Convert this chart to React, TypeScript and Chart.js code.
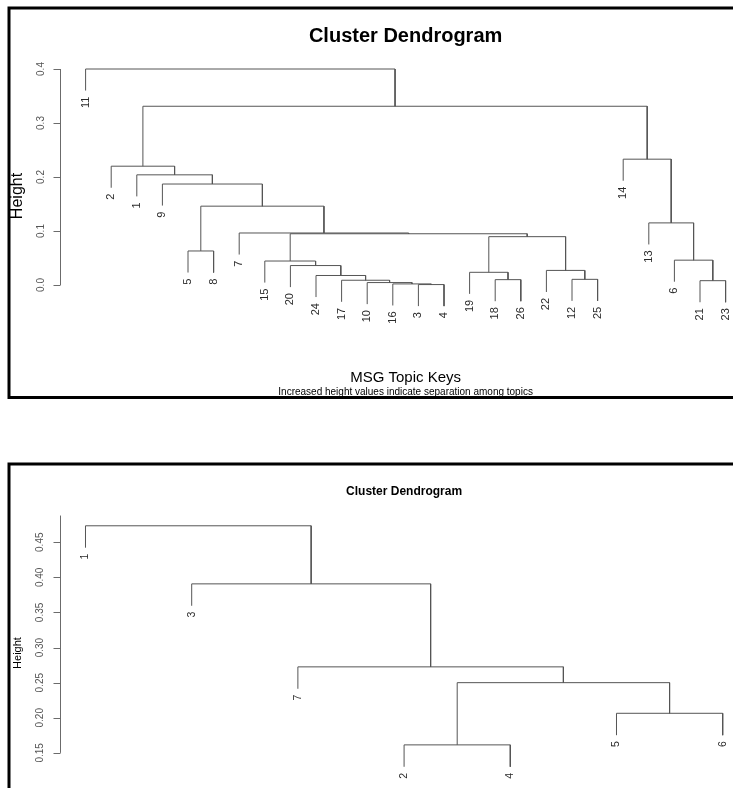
import React, { useEffect, useRef } from 'react';
import { Chart, registerables } from 'chart.js';

Chart.register(...registerables);

// ---------- Top dendrogram data ----------
const topLeafOrder = ['11', '2', '1', '9', '5', '8', '7', '15', '20', '24', '17', '10', '16', '3', '4', '19', '18', '26', '22', '12', '25', '14', '13', '6', '21', '23'];
// R hclust style: negative = leaf label, positive = earlier merge row (1-based)
const topMergeLeft = [-3, -16, -10, -21, -17, -18, -12, -24, -19, -22, -20, -15, -6, -5, 9, 12, -7, -13, 14, -9, -1, -2, -14, 22, -11];
const topMergeRight = [-4, 1, 2, -23, 3, -26, -25, 5, 6, 7, 8, 11, 4, -8, 10, 15, 16, 13, 17, 19, 20, 21, 18, 23, 24];
const topMergeHeight = [0.0008, 0.002, 0.0045, 0.008, 0.0088, 0.0099, 0.0105, 0.0176, 0.0235, 0.027, 0.036, 0.0444, 0.046, 0.063, 0.0895, 0.0949, 0.0963, 0.115, 0.146, 0.187, 0.204, 0.22, 0.233, 0.331, 0.4];
const topYTicks = [0, 0.1, 0.2, 0.3, 0.4];
const topTickLabels = ['0.0', '0.1', '0.2', '0.3', '0.4'];
const topTitle = 'Cluster Dendrogram';
const topXLabel = 'MSG Topic Keys';
const topSubLabel = 'Increased height values indicate separation among topics';
const topYLabel = 'Height';

// ---------- Bottom dendrogram data ----------
const botLeafOrder = ['1', '3', '7', '2', '4', '5', '6'];
const botMergeLeft = [-2, -5, 1, -7, -3, -1];
const botMergeRight = [-4, -6, 2, 3, 4, 5];
const botMergeHeight = [0.1614, 0.2064, 0.25, 0.2725, 0.3907, 0.4734];
const botYTicks = [0.15, 0.2, 0.25, 0.3, 0.35, 0.4, 0.45];
const botTickLabels = ['0.15', '0.20', '0.25', '0.30', '0.35', '0.40', '0.45'];
const botTitle = 'Cluster Dendrogram';
const botYLabel = 'Height';

const FONT = '"Liberation Sans", Arial, sans-serif';

type Seg = { x: number; y: number }[];

function buildDendro(order: string[], left: number[], right: number[], heights: number[]) {
  const hang = 0.1 * (Math.max(...heights) - Math.min(...heights));
  const leafPos: Record<string, number> = {};
  order.forEach((l, i) => (leafPos[l] = i + 1));
  const mergeX: number[] = [];
  const segs: Seg[] = [];
  const leafEnds: { label: string; x: number; y: number }[] = [];
  const child = (c: number, h: number) => {
    if (c < 0) {
      const lab = String(-c);
      const x = leafPos[lab];
      leafEnds.push({ label: lab, x, y: h - hang });
      return { x, y: h - hang };
    }
    return { x: mergeX[c - 1], y: heights[c - 1] };
  };
  for (let i = 0; i < heights.length; i++) {
    const h = heights[i];
    const a = child(left[i], h);
    const b = child(right[i], h);
    mergeX.push((a.x + b.x) / 2);
    segs.push([
      { x: a.x, y: a.y },
      { x: a.x, y: h },
      { x: b.x, y: h },
      { x: b.x, y: b.y },
    ]);
  }
  return { segs, leafEnds };
}

type Decor = {
  ticks: number[];
  tickLabels: string[];
  axisTop: number;
  tickFont: number;
  tickX: number;
  leafFont: number;
  leafGap: number;
  yLabel: string;
  yLabelFont: number;
  yLabelX: number;
  yLabelY: number;
  title: string;
  titleFont: number;
  titleY: number;
  titleCenterValue: number;
  xLabel?: string;
  xLabelY?: number;
  sub?: string;
  subY?: number;
  border: { x: number; y: number; bottom: number };
};

function makePlugin(leafEnds: { label: string; x: number; y: number }[], d: Decor) {
  return {
    id: 'dendroDecor',
    afterDraw(chart: any) {
      const ctx: CanvasRenderingContext2D = chart.ctx;
      const xs = chart.scales.x;
      const ys = chart.scales.y;
      ctx.save();
      // y axis
      const ax = chart.chartArea.left;
      ctx.strokeStyle = '#6b6b6b';
      ctx.lineWidth = 1;
      ctx.beginPath();
      ctx.moveTo(ax + 0.5, ys.getPixelForValue(d.ticks[0]));
      ctx.lineTo(ax + 0.5, ys.getPixelForValue(d.axisTop));
      d.ticks.forEach((t) => {
        const py = Math.round(ys.getPixelForValue(t)) + 0.5;
        ctx.moveTo(ax + 0.5, py);
        ctx.lineTo(ax - 6.5, py);
      });
      ctx.stroke();
      // tick labels
      ctx.fillStyle = '#555';
      ctx.font = `${d.tickFont}px ${FONT}`;
      d.ticks.forEach((t, i) => {
        const py = ys.getPixelForValue(t);
        ctx.save();
        ctx.translate(d.tickX, py);
        ctx.rotate(-Math.PI / 2);
        ctx.textAlign = 'center';
        ctx.textBaseline = 'middle';
        ctx.fillText(d.tickLabels[i], 0, 0);
        ctx.restore();
      });
      // leaf labels
      ctx.fillStyle = '#2a2a2a';
      ctx.font = `${d.leafFont}px ${FONT}`;
      leafEnds.forEach((l) => {
        ctx.save();
        ctx.translate(xs.getPixelForValue(l.x), ys.getPixelForValue(l.y) + d.leafGap);
        ctx.rotate(-Math.PI / 2);
        ctx.textAlign = 'right';
        ctx.textBaseline = 'middle';
        ctx.fillText(l.label, 0, 0);
        ctx.restore();
      });
      // y label
      ctx.fillStyle = '#000';
      ctx.font = `${d.yLabelFont}px ${FONT}`;
      ctx.save();
      ctx.translate(d.yLabelX, d.yLabelY);
      ctx.rotate(-Math.PI / 2);
      ctx.textAlign = 'center';
      ctx.textBaseline = 'middle';
      ctx.fillText(d.yLabel, 0, 0);
      ctx.restore();
      // title
      const cx = xs.getPixelForValue(d.titleCenterValue);
      ctx.textAlign = 'center';
      ctx.textBaseline = 'alphabetic';
      ctx.font = `bold ${d.titleFont}px ${FONT}`;
      ctx.fillText(d.title, cx, d.titleY);
      if (d.xLabel && d.xLabelY) {
        ctx.font = `15px ${FONT}`;
        ctx.fillText(d.xLabel, cx, d.xLabelY);
      }
      if (d.sub && d.subY) {
        ctx.font = `10px ${FONT}`;
        ctx.fillText(d.sub, cx, d.subY);
      }
      // border frame
      ctx.strokeStyle = '#000';
      ctx.lineWidth = 3;
      ctx.beginPath();
      ctx.moveTo(chart.width + 20, d.border.y);
      ctx.lineTo(d.border.x, d.border.y);
      ctx.lineTo(d.border.x, d.border.bottom);
      ctx.lineTo(chart.width + 20, d.border.bottom);
      ctx.stroke();
      ctx.restore();
    },
  };
}

function makeChart(
  canvas: HTMLCanvasElement,
  order: string[],
  left: number[],
  right: number[],
  heights: number[],
  xRange: [number, number],
  yRange: [number, number],
  padding: { left: number; right: number; top: number; bottom: number },
  decor: Decor
) {
  const { segs, leafEnds } = buildDendro(order, left, right, heights);
  return new Chart(canvas, {
    type: 'scatter',
    data: {
      datasets: segs.map((s) => ({
        data: s,
        showLine: true,
        borderColor: '#555',
        borderWidth: 1,
        pointRadius: 0,
        pointHoverRadius: 0,
        tension: 0,
        fill: false,
      })),
    },
    options: {
      responsive: false,
      animation: false,
      events: [],
      layout: { padding },
      plugins: { legend: { display: false }, tooltip: { enabled: false }, title: { display: false } },
      scales: {
        x: { type: 'linear', display: false, min: xRange[0], max: xRange[1] },
        y: { type: 'linear', display: false, min: yRange[0], max: yRange[1] },
      },
    },
    plugins: [makePlugin(leafEnds, decor)],
  } as any);
}

export default function App() {
  const topRef = useRef<HTMLCanvasElement>(null);
  const botRef = useRef<HTMLCanvasElement>(null);

  useEffect(() => {
    const c1 = makeChart(
      topRef.current!,
      topLeafOrder,
      topMergeLeft,
      topMergeRight,
      topMergeHeight,
      [0, 673 / 25.6],
      [-0.2, 0.5],
      { left: 60, right: 0, top: 15, bottom: 7 },
      {
        ticks: topYTicks,
        tickLabels: topTickLabels,
        axisTop: 0.4,
        tickFont: 10,
        tickX: 41,
        leafFont: 11,
        leafGap: 6,
        yLabel: topYLabel,
        yLabelFont: 16,
        yLabelX: 18,
        yLabelY: 196,
        title: topTitle,
        titleFont: 20,
        titleY: 42,
        titleCenterValue: 13.5,
        xLabel: topXLabel,
        xLabelY: 382,
        sub: topSubLabel,
        subY: 395,
        border: { x: 9, y: 8, bottom: 397.5 },
      }
    );
    const c2 = makeChart(
      botRef.current!,
      botLeafOrder,
      botMergeLeft,
      botMergeRight,
      botMergeHeight,
      [0.76, 0.76 + 673 / 106.2],
      [0.1, 0.55],
      { left: 60, right: 0, top: 12, bottom: 0 },
      {
        ticks: botYTicks,
        tickLabels: botTickLabels,
        axisTop: 0.488,
        tickFont: 10,
        tickX: 40,
        leafFont: 10.5,
        leafGap: 6,
        yLabel: botYLabel,
        yLabelFont: 11,
        yLabelX: 18,
        yLabelY: 193,
        title: botTitle,
        titleFont: 12,
        titleY: 35,
        titleCenterValue: 4,
        border: { x: 9, y: 4, bottom: 400 },
      }
    );
    return () => {
      c1.destroy();
      c2.destroy();
    };
  }, []);

  return (
    <div style={{ position: 'fixed', left: 0, top: 0, width: 733, height: 788, background: '#fff', overflow: 'hidden' }}>
      <canvas ref={topRef} width={733} height={400} style={{ position: 'absolute', left: 0, top: 0 }} />
      <canvas ref={botRef} width={733} height={328} style={{ position: 'absolute', left: 0, top: 460 }} />
    </div>
  );
}
